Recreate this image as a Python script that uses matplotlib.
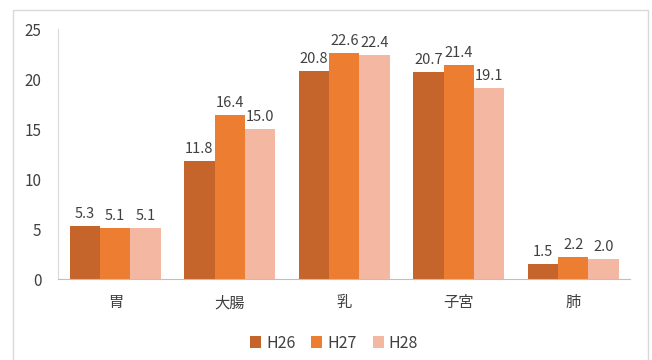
import numpy as np
import matplotlib.pyplot as plt
from matplotlib.patches import Rectangle

plt.rcParams['font.family'] = ['Noto Sans CJK JP', 'DejaVu Sans']

# data
sites = ['胃', '大腸', '乳', '子宮', '肺']
years = ['H26', 'H27', 'H28']
h26 = [5.3, 11.8, 20.8, 20.7, 1.5]
h27 = [5.1, 16.4, 22.6, 21.4, 2.2]
h28 = [5.1, 15.0, 22.4, 19.1, 2.0]
colors = ['#C5652B', '#ED7D31', '#F4B8A2']

fig = plt.figure(figsize=(6.52, 3.60), dpi=100)
ax = fig.add_axes([0.089, 0.225, 0.878, 0.694])

# light frame round the whole chart
fig.patches.append(Rectangle((0.020, -0.01), 0.974, 0.982, transform=fig.transFigure,
                             fill=False, edgecolor='#D9D9D9', linewidth=1.0))

x = np.arange(len(sites))
w = 0.265
for i, (vals, lab) in enumerate(zip([h26, h27, h28], years)):
    bars = ax.bar(x + (i - 1) * w, vals, w, color=colors[i], label=lab, zorder=2)
    for b, v in zip(bars, vals):
        ax.text(b.get_x() + b.get_width() / 2, v + 0.5, f'{v:.1f}',
                ha='center', va='bottom', fontsize=10.5, color='#404040')

ax.set_xlim(-0.5, len(sites) - 0.5)
ax.set_ylim(0, 25)
ax.set_yticks(range(0, 26, 5))
ax.set_xticks(x)
ax.set_xticklabels(sites)
ax.tick_params(axis='both', length=0, labelsize=11, colors='#404040')
ax.tick_params(axis='y', pad=12)
ax.tick_params(axis='x', pad=11)

for s in ['top', 'right']:
    ax.spines[s].set_visible(False)
ax.spines['left'].set_color('#D9D9D9')
ax.spines['bottom'].set_color('#BFBFBF')

ax.legend(loc='upper center', bbox_to_anchor=(0.482, -0.165), ncol=3, frameon=False,
          fontsize=11.5, handlelength=0.7, handleheight=0.7, handletextpad=0.3,
          columnspacing=1.0, labelcolor='#404040')

plt.savefig('out.png', dpi=100)
